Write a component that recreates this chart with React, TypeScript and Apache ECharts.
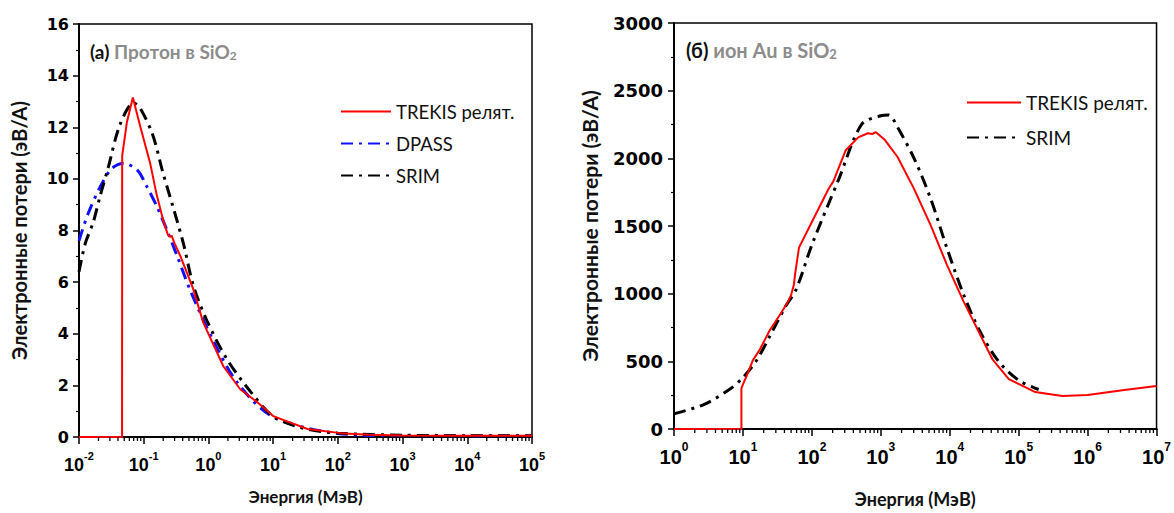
import React, { useEffect, useRef } from "react";
import * as echarts from "echarts";

// ---- Data: (a) proton in SiO2 ----
const protonTrekis: [number, number][] = [
  [0.01, 0], [0.0463, 0], [0.0463, 1.7], [0.0465, 10.9], [0.055, 12.2], [0.068, 13.15],
  [0.087, 12.1], [0.126, 10.6], [0.158, 9.4], [0.2, 8.4], [0.235, 7.85], [0.255, 7.75],
  [0.27, 7.8], [0.3, 7.5], [0.37, 7.0], [0.57, 5.8], [0.83, 4.44], [1.7, 2.74],
  [3.1, 1.85], [5.7, 1.35], [10, 0.81], [34, 0.31], [110, 0.15], [300, 0.09],
  [1000, 0.06], [10000, 0.05], [100000, 0.05],
];
const protonDpass: [number, number][] = [
  [0.01, 7.6], [0.0138, 8.65], [0.0214, 9.7], [0.032, 10.4], [0.048, 10.6], [0.079, 10.35],
  [0.112, 9.7], [0.162, 8.9], [0.23, 8.0], [0.33, 7.0], [0.52, 5.7], [1.15, 3.8],
  [2.8, 2.1], [10, 0.78], [100, 0.14], [1000, 0.05], [100000, 0.04],
];
const protonSrim: [number, number][] = [
  [0.01, 6.4], [0.0125, 7.5], [0.0165, 8.3], [0.021, 9.3], [0.028, 10.4], [0.043, 12.1],
  [0.07, 12.95], [0.09, 12.7], [0.138, 11.7], [0.2, 10.2], [0.285, 8.9], [0.41, 7.5],
  [0.58, 5.9], [0.95, 4.5], [1.95, 3.0], [4.5, 1.75], [10, 0.8], [30, 0.33],
  [100, 0.15], [1000, 0.07], [10000, 0.05], [100000, 0.05],
];

// ---- Data: (б) Au ion in SiO2 ----
const auTrekis: [number, number][] = [
  [1, 0], [9.5, 0], [9.5, 300], [10, 330], [11.5, 400], [14, 510], [17.5, 585], [24.5, 730],
  [35, 850], [45, 940], [50, 990], [55, 1070], [57, 1140], [65, 1340], [100, 1530],
  [175, 1775], [205, 1830], [310, 2060], [470, 2155], [650, 2185], [750, 2180], [850, 2193],
  [1150, 2135], [1750, 2010], [3000, 1780], [5300, 1505], [9100, 1213], [15800, 945],
  [27000, 708], [42000, 512], [72000, 368], [174000, 273], [430000, 244], [1000000, 251],
  [3400000, 288], [10000000, 318],
];
const auSrim: [number, number][] = [
  [1, 113], [2.7, 180], [6.5, 295], [10, 380], [16, 512], [24.5, 685], [42, 910], [59, 1030],
  [100, 1360], [245, 1845], [525, 2250], [1000, 2315], [1300, 2320], [1750, 2230],
  [3100, 1990], [5300, 1700], [9100, 1337], [15800, 996], [27000, 728], [51000, 500],
  [100000, 360], [195000, 292],
];

// ---- Axis / tick definitions ----
const leftDecades = [-2, -1, 0, 1, 2, 3, 4];
const rightDecades = [0, 1, 2, 3, 4, 5, 6];
const minorMultipliers = [2, 3, 4, 5, 6, 7, 8, 9];
const legendNames = ["TREKIS релят.", "DPASS", "SRIM"];
const yTitle = "Электронные потери (эВ/А)";
const xTitle = "Энергия (МэВ)";

const TEXT_FONT = "Lato";
const NUM_FONT = "Liberation Sans";

const minorValues = (decades: number[]) =>
  decades.flatMap((d) => minorMultipliers.map((m) => [m * Math.pow(10, d), 0]));

const supFormatter = (v: number) => {
  const e = Math.round(Math.log10(v));
  return `{b|10}{s|${e}}`;
};

const dashDot = [12, 6, 3, 6];

export default function App() {
  const ref = useRef<HTMLDivElement>(null);
  useEffect(() => {
    if (!ref.current) return;
    const chart = echarts.init(ref.current, undefined, { renderer: "svg" });

    const xLabel = (size: number, margin: number) => ({
      formatter: supFormatter,
      margin,
      rich: {
        b: { fontFamily: NUM_FONT, fontWeight: "bold", fontSize: size, color: "#000", lineHeight: size + 6, verticalAlign: "bottom" },
        s: { fontFamily: NUM_FONT, fontWeight: "bold", fontSize: Math.round(size * 0.62), color: "#000", verticalAlign: "top" },
      },
    });

    const minorSeries = (idx: number, decades: number[]) => ({
      type: "custom",
      xAxisIndex: idx,
      yAxisIndex: idx,
      silent: true,
      clip: false,
      z: 5,
      data: minorValues(decades),
      renderItem: (_p: any, api: any) => {
        const pt = api.coord([api.value(0), 0]);
        return {
          type: "line",
          shape: { x1: pt[0], y1: pt[1], x2: pt[0], y2: pt[1] + 4 },
          style: { stroke: "#000", lineWidth: 1.3 },
        };
      },
    });

    const titleRich = (size: number) => ({
      a: { fontFamily: TEXT_FONT, fontWeight: "bold", fontSize: size, fill: "#111", verticalAlign: "bottom", lineHeight: size + 3 },
      g: { fontFamily: TEXT_FONT, fontWeight: "bold", fontSize: size, fill: "#8c8c8c", verticalAlign: "bottom", lineHeight: size + 3 },
      s: { fontFamily: TEXT_FONT, fontWeight: "bold", fontSize: Math.round(size * 0.64), fill: "#8c8c8c", verticalAlign: "bottom", lineHeight: 12, padding: [12, 0, 0, 0] },
    });

    const option: any = {
      animation: false,
      backgroundColor: "#fff",
      grid: [
        { left: 79, top: 24, width: 453, height: 413, show: true, borderColor: "#000", borderWidth: 1.5 },
        { left: 674, top: 23, width: 487, height: 414, show: true, borderColor: "#000", borderWidth: 1.5 },
      ],
      xAxis: [
        {
          type: "log", gridIndex: 0, logBase: 10, min: 0.01, max: 100000, splitNumber: 7,
          axisLine: { lineStyle: { color: "#000", width: 2 } },
          axisTick: { length: 7, lineStyle: { color: "#000", width: 1.5 } },
          splitLine: { show: false },
          axisLabel: xLabel(18, 13),
          name: xTitle, nameLocation: "middle", nameGap: 51,
          nameTextStyle: { fontFamily: TEXT_FONT, fontWeight: "bold", fontSize: 17, color: "#111" },
        },
        {
          type: "log", gridIndex: 1, logBase: 10, min: 1, max: 10000000, splitNumber: 7,
          axisLine: { lineStyle: { color: "#000", width: 2 } },
          axisTick: { length: 7, lineStyle: { color: "#000", width: 1.5 } },
          splitLine: { show: false },
          axisLabel: xLabel(20, 12),
          name: xTitle, nameLocation: "middle", nameGap: 61,
          nameTextStyle: { fontFamily: TEXT_FONT, fontWeight: "bold", fontSize: 18, color: "#111" },
        },
      ],
      yAxis: [
        {
          type: "value", gridIndex: 0, min: 0, max: 16, interval: 2,
          axisLine: { show: true, lineStyle: { color: "#000", width: 2 } },
          axisTick: { show: true, length: 6, lineStyle: { color: "#000", width: 1.5 } },
          minorTick: { show: true, splitNumber: 2, length: 3, lineStyle: { color: "#000", width: 1.2 } },
          splitLine: { show: false },
          axisLabel: { fontFamily: "DejaVu Sans", fontWeight: "bold", fontSize: 16, color: "#000", margin: 10, formatter: (v: number) => String(v) },
          name: yTitle, nameLocation: "middle", nameRotate: 90, nameGap: 50,
          nameTextStyle: { fontFamily: TEXT_FONT, fontWeight: "bold", fontSize: 20, color: "#111" },
        },
        {
          type: "value", gridIndex: 1, min: 0, max: 3000, interval: 500,
          axisLine: { show: true, lineStyle: { color: "#000", width: 2 } },
          axisTick: { show: true, length: 6, lineStyle: { color: "#000", width: 1.5 } },
          minorTick: { show: true, splitNumber: 2, length: 3, lineStyle: { color: "#000", width: 1.2 } },
          splitLine: { show: false },
          axisLabel: { fontFamily: "DejaVu Sans", fontWeight: "bold", fontSize: 18, color: "#000", margin: 11, formatter: (v: number) => String(v) },
          name: yTitle, nameLocation: "middle", nameRotate: 90, nameGap: 74,
          nameTextStyle: { fontFamily: TEXT_FONT, fontWeight: "bold", fontSize: 21, color: "#111" },
        },
      ],
      legend: [
        {
          data: legendNames, orient: "vertical", left: 335, top: 97, itemWidth: 50, itemHeight: 16, itemGap: 13,
          itemStyle: { opacity: 0 },
          textStyle: { fontFamily: TEXT_FONT, fontSize: 18.5, color: "#111", lineHeight: 16 },
        },
        {
          data: [legendNames[0], legendNames[2]], orient: "vertical", left: 961, top: 88, itemWidth: 54, itemHeight: 16, itemGap: 16,
          itemStyle: { opacity: 0 },
          textStyle: { fontFamily: TEXT_FONT, fontSize: 19, color: "#111", lineHeight: 16 },
        },
      ],
      graphic: [
        {
          type: "text", left: 90, top: 37, z: 10,
          style: { text: "{a|(a) }{g|Протон в SiO}{s|2}", rich: titleRich(19) },
        },
        {
          type: "text", left: 686, top: 35, z: 10,
          style: { text: "{a|(б) }{g|ион Au в SiO}{s|2}", rich: titleRich(20) },
        },
      ],
      series: [
        {
          name: "DPASS", type: "line", xAxisIndex: 0, yAxisIndex: 0, data: protonDpass,
          showSymbol: false, symbol: "none", smooth: 0.3, z: 2,
          lineStyle: { color: "#1010ff", width: 3, type: dashDot },
          itemStyle: { color: "#1010ff" },
        },
        {
          name: "SRIM", type: "line", xAxisIndex: 0, yAxisIndex: 0, data: protonSrim,
          showSymbol: false, symbol: "none", smooth: 0.3, z: 2,
          lineStyle: { color: "#000", width: 3, type: dashDot },
          itemStyle: { color: "#000" },
        },
        {
          name: "TREKIS релят.", type: "line", xAxisIndex: 0, yAxisIndex: 0, data: protonTrekis,
          showSymbol: false, symbol: "none", smooth: false, z: 3,
          lineStyle: { color: "#ff0000", width: 2 },
          itemStyle: { color: "#ff0000" },
        },
        {
          name: "SRIM", type: "line", xAxisIndex: 1, yAxisIndex: 1, data: auSrim,
          showSymbol: false, symbol: "none", smooth: 0.3, z: 2,
          lineStyle: { color: "#000", width: 3, type: dashDot },
          itemStyle: { color: "#000" },
        },
        {
          name: "TREKIS релят.", type: "line", xAxisIndex: 1, yAxisIndex: 1, data: auTrekis,
          showSymbol: false, symbol: "none", smooth: false, z: 3,
          lineStyle: { color: "#ff0000", width: 2 },
          itemStyle: { color: "#ff0000" },
        },
        minorSeries(0, leftDecades),
        minorSeries(1, rightDecades),
      ],
    };

    chart.setOption(option);
    return () => chart.dispose();
  }, []);

  return (
    <div
      ref={ref}
      style={{ position: "fixed", left: 0, top: 0, width: 1174, height: 513, background: "#fff" }}
    />
  );
}
